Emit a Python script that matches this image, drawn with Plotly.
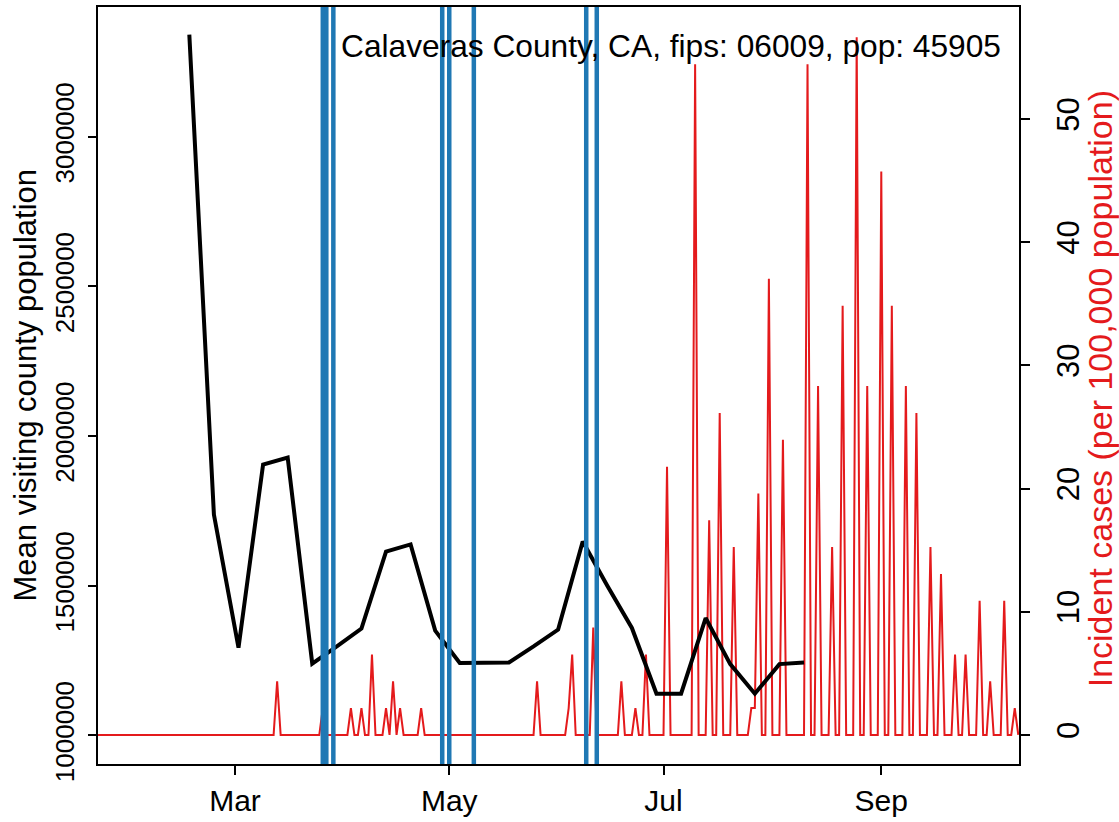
import pandas as pd
import plotly.graph_objects as go

# ---- data ----
mob_dates = ["2020-02-17", "2020-02-24", "2020-03-02", "2020-03-09", "2020-03-16", "2020-03-23",
             "2020-03-30", "2020-04-06", "2020-04-13", "2020-04-20", "2020-04-27", "2020-05-04",
             "2020-05-11", "2020-05-18", "2020-05-25", "2020-06-01", "2020-06-08", "2020-06-15",
             "2020-06-22", "2020-06-29", "2020-07-06", "2020-07-13", "2020-07-20", "2020-07-27",
             "2020-08-03", "2020-08-10"]
mob_values = [3341500, 1738000, 1293200, 1905100, 1928200, 1240000,
              1297600, 1356800, 1613900, 1638200, 1350000, 1242000,
              1243000, 1244000, 1297400, 1353500, 1648100, 1500000,
              1359100, 1139400, 1139400, 1392100, 1238200, 1139400,
              1238200, 1243800]

case_dates = ["2020-03-13", "2020-03-26", "2020-04-03", "2020-04-06", "2020-04-09", "2020-04-13",
              "2020-04-15", "2020-04-17", "2020-04-23", "2020-05-26", "2020-06-04", "2020-06-05",
              "2020-06-11", "2020-06-19", "2020-06-23", "2020-06-26", "2020-07-02", "2020-07-10",
              "2020-07-14", "2020-07-17", "2020-07-21", "2020-07-26", "2020-07-27", "2020-07-28",
              "2020-07-31", "2020-08-04", "2020-08-11", "2020-08-14", "2020-08-18", "2020-08-21",
              "2020-08-25", "2020-08-28", "2020-09-01", "2020-09-04", "2020-09-08", "2020-09-11",
              "2020-09-15", "2020-09-18", "2020-09-22", "2020-09-25", "2020-09-29", "2020-10-02",
              "2020-10-06", "2020-10-09"]
case_values = [4.36, 2.18, 2.18, 2.18, 6.53, 2.18,
               4.36, 2.18, 2.18, 4.36, 2.18, 6.53,
               8.71, 4.36, 2.18, 6.53, 21.78, 54.46,
               17.43, 26.14, 15.25, 2.18, 2.18, 19.61,
               37.03, 23.96, 54.46, 28.32, 15.25, 34.85,
               56.64, 28.32, 45.75, 34.85, 28.32, 26.14,
               15.25, 13.07, 6.53, 6.53, 10.89, 4.36,
               10.89, 2.18]
case_start, case_end = "2020-01-22", "2020-10-10"

event_dates = ["2020-03-26", "2020-03-27", "2020-03-29", "2020-04-29", "2020-05-01",
               "2020-05-08", "2020-06-09", "2020-06-12"]

x_ticks = ["2020-03-01", "2020-05-01", "2020-07-01", "2020-09-01"]
x_ticktext = ["Mar", "May", "Jul", "Sep"]
left_ticks = [1000000, 1500000, 2000000, 2500000, 3000000]
right_ticks = [0, 10, 20, 30, 40, 50]

title_text = "Calaveras County, CA, fips: 06009, pop: 45905"
left_title = "Mean visiting county population"
right_title = "Incident cases (per 100,000 population)"

# daily case series (days not listed are zero)
days = pd.date_range(case_start, case_end, freq="D")
cases = pd.Series(case_values, index=pd.to_datetime(case_dates)).reindex(days, fill_value=0.0)

FONT = "Liberation Sans, Arial, sans-serif"
RED = "#E41A1C"
BLUE = "#1F78B4"

fig = go.Figure()
fig.add_trace(go.Scatter(x=cases.index, y=cases.values, mode="lines",
                         line=dict(color=RED, width=2), yaxis="y", hoverinfo="skip"))
fig.add_trace(go.Scatter(x=pd.to_datetime(mob_dates), y=mob_values, mode="lines",
                         line=dict(color="black", width=4), yaxis="y2", hoverinfo="skip"))

for d in event_dates:
    fig.add_shape(type="line", xref="x", yref="paper", x0=d, x1=d, y0=0, y1=1,
                  line=dict(color=BLUE, width=4.5), layer="above")

axis_common = dict(showgrid=False, zeroline=False, ticks="outside", ticklen=9, tickwidth=2,
                   tickcolor="black")

fig.update_layout(
    width=1119, height=822,
    margin=dict(l=98, r=100, t=5, b=49),
    paper_bgcolor="white", plot_bgcolor="white",
    showlegend=False,
    xaxis=dict(type="date", range=["2020-01-22 00:00", "2020-10-10 05:00"],
               tickvals=x_ticks, ticktext=x_ticktext,
               tickfont=dict(family=FONT, size=30, color="black"),
               showline=True, linewidth=2, linecolor="black", mirror=True, **axis_common),
    yaxis=dict(side="right", range=[-2.36, 59.1], tickvals=right_ticks,
               ticktext=[str(v) for v in right_ticks], tickangle=-90,
               tickfont=dict(family=FONT, size=31, color="black"),
               ticklabelstandoff=12,
               showline=True, linewidth=2, linecolor="black", mirror=True, **axis_common),
    yaxis2=dict(side="left", overlaying="y", range=[904540, 3433500], tickvals=left_ticks,
                ticktext=[str(v) for v in left_ticks], tickangle=-90,
                tickfont=dict(family=FONT, size=26, color="black"),
                ticklabelstandoff=4,
                showline=False, **axis_common),
    annotations=[
        dict(text=title_text, xref="paper", yref="paper", x=(1003 - 98) / 921, y=1 - (45 - 5) / 768,
             xanchor="right", yanchor="middle", showarrow=False,
             font=dict(family=FONT, size=31.7, color="black")),
        dict(text=left_title, xref="paper", yref="paper", x=(25 - 98) / 921, y=0.5,
             xanchor="center", yanchor="middle", textangle=-90, showarrow=False,
             font=dict(family=FONT, size=31, color="black")),
        dict(text=right_title, xref="paper", yref="paper", x=(1100 - 98) / 921, y=0.495,
             xanchor="center", yanchor="middle", textangle=-90, showarrow=False,
             font=dict(family=FONT, size=34, color=RED)),
    ],
)

fig.write_html("out.html", config={"displayModeBar": False},
               post_script="document.body.style.margin='0';document.body.style.overflow='hidden';")
